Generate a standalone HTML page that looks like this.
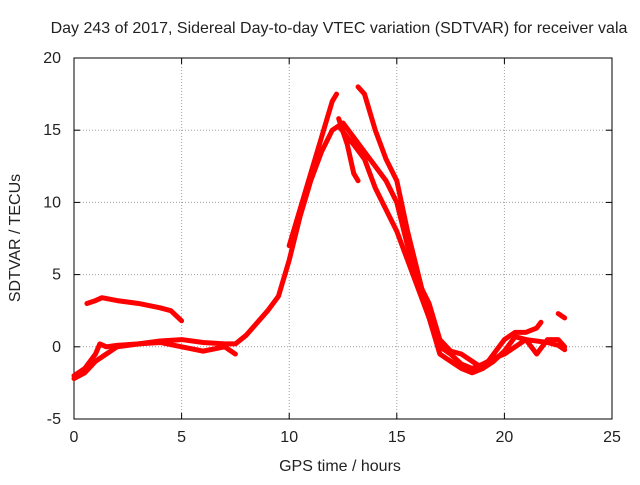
<!DOCTYPE html>
<html><head><meta charset="utf-8"><style>
body{margin:0;background:#fff;}
svg text{font-family:"Liberation Sans",sans-serif;font-size:16px;fill:#222;}
</style></head><body>
<svg id="chart" width="640" height="480">
<text x="339" y="33" text-anchor="middle">Day 243 of 2017, Sidereal Day-to-day VTEC variation (SDTVAR) for receiver vala</text>
<g id="grid"></g>
<g id="axes"></g>
<g id="series"></g>
<text x="340" y="471" text-anchor="middle">GPS time / hours</text>
<text transform="translate(20,238) rotate(-90)" text-anchor="middle">SDTVAR / TECUs</text>
</svg>
<script>
const xTicks=[0,5,10,15,20,25];
const yTicks=[-5,0,5,10,15,20];
const traceA=[[0,-2],[0.5,-1.5],[1,-0.5],[1.2,0.2],[1.5,0],[2,0.1],[3,0.2],[4,0.4],[5,0.5],[6,0.3],[7,0.2],[7.5,0.2],[8,0.8],[9,2.5],[9.5,3.5],[10,6],[10.5,9],[11,11.5],[11.5,13.5],[12,15],[12.3,15.3],[12.7,14.5],[13,14],[13.5,13],[14,11],[14.5,9.5],[15,8],[15.5,6],[16,4],[16.5,2],[17,0],[17.5,-0.5],[18,-1.2],[18.5,-1.5],[19,-1.2],[19.5,-0.8],[20,-0.5],[20.5,0],[21,0.5],[22,0.3],[22.5,0.1],[22.8,-0.2]];
const traceB=[[0.6,3],[1,3.2],[1.3,3.4],[2,3.2],[3,3],[4,2.7],[4.5,2.5],[5,1.8]];
const traceC=[[10,7],[11,12],[11.5,14.5],[12,17],[12.2,17.5]];
const traceD=[[13.2,18],[13.5,17.5],[14,15],[14.5,13],[15,11.5],[15.5,8],[16,5],[16.5,2],[17,-0.5],[17.5,-1],[18,-1.5],[18.5,-1.8],[19,-1.5],[19.5,-1],[20,-0.3],[20.5,0.7],[21,0.5],[21.5,-0.5],[22,0.5],[22.5,0.5],[22.8,0]];
const traceE=[[12.3,15.8],[12.7,14],[13,12],[13.2,11.5]];
const traceF=[[12.5,15.5],[13,14.5],[13.5,13.5],[14,12.5],[14.5,11.5],[15,10],[15.5,7],[16,4.5],[16.5,3],[17,0.5],[17.5,-0.3],[18,-0.5],[18.5,-1],[19,-1.5],[19.5,-0.5],[20,0.5],[20.5,1],[21,1],[21.5,1.3],[21.7,1.7]];
const traceG=[[0,-2.2],[0.5,-1.8],[1,-1],[2,0],[3,0.2],[4,0.3],[5,0],[6,-0.3],[7,0],[7.5,-0.5]];
const traceH=[[22.5,2.3],[22.8,2]];
const traces=[traceA,traceB,traceC,traceD,traceE,traceF,traceG,traceH];
const L=74,R=612,T=58,B=419;
const sx=v=>L+(v-0)/25*(R-L);
const sy=v=>B-(v+5)/25*(B-T);
const NS='http://www.w3.org/2000/svg';
const grid=document.getElementById('grid'),axes=document.getElementById('axes'),ser=document.getElementById('series');
function mk(tag,attrs,parent){const e=document.createElementNS(NS,tag);for(const k in attrs)e.setAttribute(k,attrs[k]);parent.appendChild(e);return e;}
xTicks.forEach(t=>{
  if(t>0&&t<25){const g=mk('line',{x1:sx(t),x2:sx(t),y1:T,y2:B,stroke:'#a0a0a0','stroke-dasharray':'1,2'},grid);
  
  }
  const tk=mk('text',{x:sx(t),y:B+23,'text-anchor':'middle'},axes);tk.textContent=t;
  
  
  mk('line',{x1:sx(t),x2:sx(t),y1:B,y2:B-6,stroke:'#000'},axes);
  mk('line',{x1:sx(t),x2:sx(t),y1:T,y2:T+6,stroke:'#000'},axes);
});
yTicks.forEach(t=>{
  if(t>-5&&t<20){const g=mk('line',{x1:L,x2:R,y1:sy(t),y2:sy(t),stroke:'#a0a0a0','stroke-dasharray':'1,2'},grid);
  
  }
  const tk=mk('text',{x:L-13,y:sy(t)+5,'text-anchor':'end'},axes);tk.textContent=t;
  
  
  mk('line',{x1:L,x2:L+6,y1:sy(t),y2:sy(t),stroke:'#000'},axes);
  mk('line',{x1:R,x2:R-6,y1:sy(t),y2:sy(t),stroke:'#000'},axes);
});
const fr=mk('rect',{x:L,y:T,width:R-L,height:B-T,fill:'none',stroke:'#000'},axes);


traces.forEach((tr,i)=>{
  const p=mk('polyline',{points:tr.map(d=>sx(d[0])+','+sy(d[1])).join(' '),fill:'none',stroke:'#ff0000','stroke-width':5,'stroke-linejoin':'round','stroke-linecap':'round'},ser);
  
  
});
</script>
</body></html>
